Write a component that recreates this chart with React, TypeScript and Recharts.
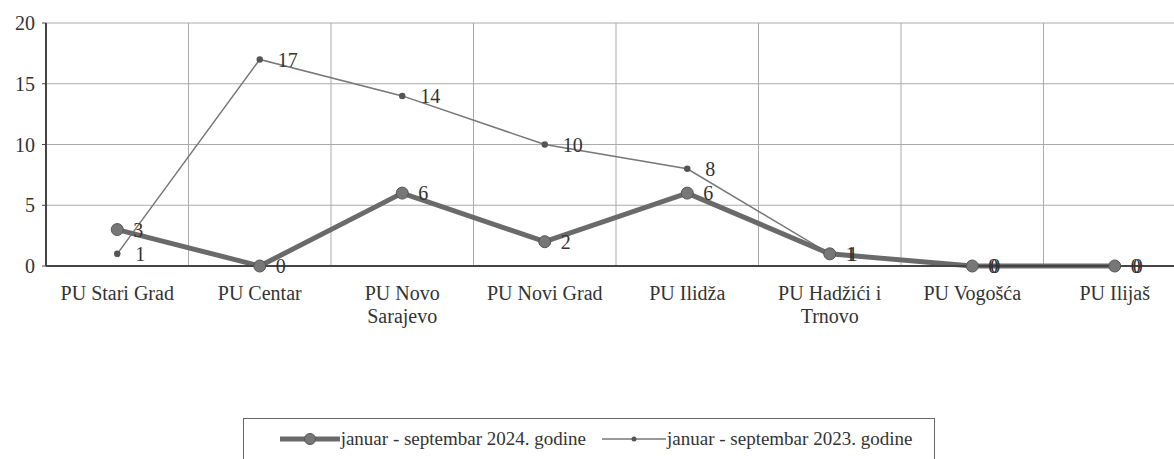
import { CartesianGrid, Legend, LabelList, Line, LineChart, XAxis, YAxis } from "recharts";

const categories = [
  "PU Stari Grad",
  "PU Centar",
  "PU Novo\nSarajevo",
  "PU Novi Grad",
  "PU Ilidža",
  "PU Hadžići i\nTrnovo",
  "PU Vogošća",
  "PU Ilijaš",
];
const series2024 = [3, 0, 6, 2, 6, 1, 0, 0];
const series2023 = [1, 17, 14, 10, 8, 1, 0, 0];
const yTicks = [0, 5, 10, 15, 20];
const label2024 = "januar - septembar 2024. godine";
const label2023 = "januar - septembar 2023. godine";

const data = categories.map((name, i) => ({
  name,
  y2024: series2024[i],
  y2023: series2023[i],
}));

const FONT = "'Liberation Serif', 'Times New Roman', serif";

function CategoryTick({ x, y, payload }: any) {
  const lines = String(payload.value).split("\n");
  return (
    <text x={x} y={y} textAnchor="middle" fill="#333" fontFamily={FONT} fontSize={20}>
      {lines.map((l, i) => (
        <tspan key={i} x={x} dy={i === 0 ? 26 : 23}>
          {l}
        </tspan>
      ))}
    </text>
  );
}

function LegendBox() {
  return (
    <div
      style={{
        width: 692,
        height: 50,
        border: "1px solid #666",
        boxSizing: "border-box",
        display: "flex",
        alignItems: "flex-start",
        justifyContent: "center",
        paddingTop: 9,
        paddingLeft: 14,
        gap: 16,
        fontFamily: FONT,
        fontSize: 19,
        color: "#333",
      }}
    >
      <span style={{ display: "flex", alignItems: "center", gap: 1 }}>
        <svg width={60} height={14}>
          <line x1={0} y1={7} x2={60} y2={7} stroke="#6a6a6a" strokeWidth={5} />
          <circle cx={30} cy={7} r={5.5} fill="#777" stroke="#555" />
        </svg>
        {label2024}
      </span>
      <span style={{ display: "flex", alignItems: "center", gap: 1 }}>
        <svg width={64} height={14}>
          <line x1={0} y1={7} x2={64} y2={7} stroke="#777" strokeWidth={1.5} />
          <circle cx={32} cy={7} r={2.5} fill="#555" />
        </svg>
        {label2023}
      </span>
    </div>
  );
}

export default function App() {
  return (
    <div style={{ position: "absolute", left: 0, top: 0, background: "#fff" }}>
      <LineChart
        width={1190}
        height={470}
        data={data}
        margin={{ top: 23, right: 4, left: 0, bottom: 0 }}
      >
        <CartesianGrid
          stroke="#aaa"
          strokeWidth={1}
          verticalCoordinatesGenerator={({ offset }: any) =>
            categories.map((_, i) => offset.left + (i * offset.width) / categories.length)
          }
        />
        <XAxis
          dataKey="name"
          scale="band"
          interval={0}
          tick={<CategoryTick />}
          tickLine={false}
          axisLine={{ stroke: "#444", strokeWidth: 2 }}
          height={152}
        />
        <YAxis
          domain={[0, 20]}
          ticks={yTicks}
          width={46}
          tickSize={4}
          tickMargin={7}
          tickLine={{ stroke: "#444" }}
          axisLine={{ stroke: "#444", strokeWidth: 2 }}
          tick={{ fill: "#333", fontFamily: FONT, fontSize: 20 }}
        />
        <Legend
          verticalAlign="bottom"
          content={<LegendBox />}
          wrapperStyle={{ left: 243, width: 692, height: 52 }}
        />
        <Line
          dataKey="y2023"
          name={label2023}
          stroke="#777"
          strokeWidth={1.5}
          dot={{ r: 2.5, fill: "#555", stroke: "#555" }}
          isAnimationActive={false}
        >
          <LabelList
            dataKey="y2023"
            position="right"
            offset={18}
            fill="#333"
            fontFamily={FONT}
            fontSize={20}
          />
        </Line>
        <Line
          dataKey="y2024"
          name={label2024}
          stroke="#6a6a6a"
          strokeWidth={5}
          dot={{ r: 6, fill: "#777", stroke: "#555", strokeWidth: 1 }}
          isAnimationActive={false}
        >
          <LabelList
            dataKey="y2024"
            position="right"
            offset={16}
            fill="#333"
            fontFamily={FONT}
            fontSize={20}
          />
        </Line>
      </LineChart>
    </div>
  );
}
